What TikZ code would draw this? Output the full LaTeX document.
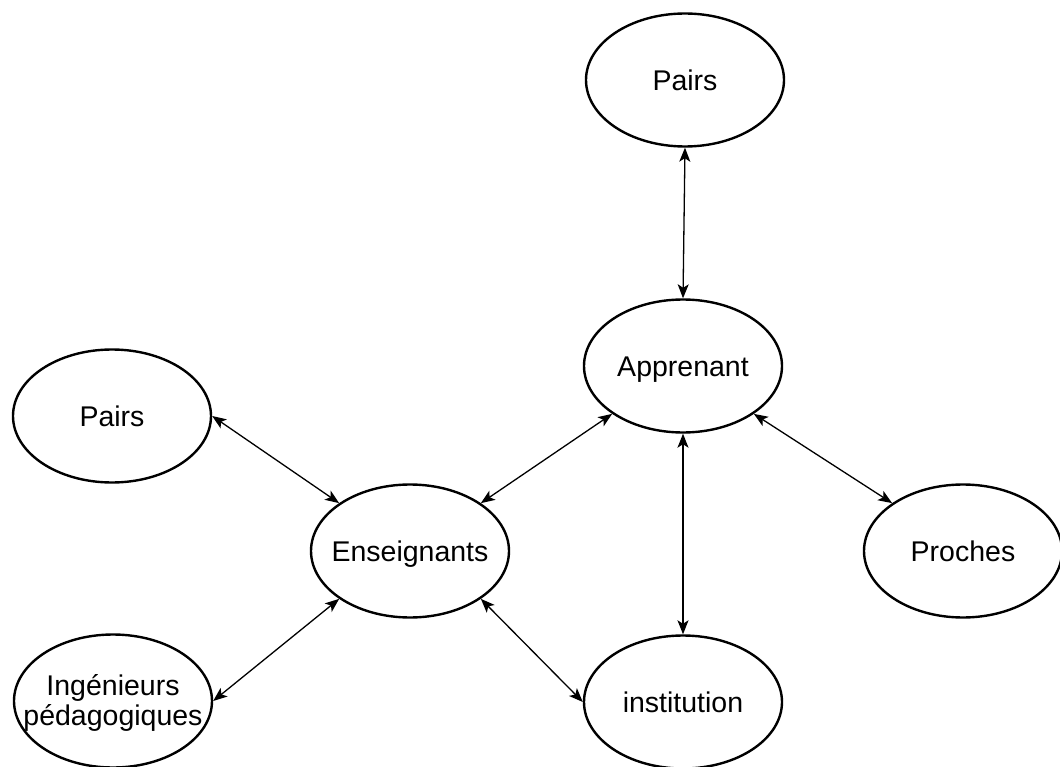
\documentclass[tikz,border=0pt]{standalone}
\usepackage{fontspec}
\setmainfont{Liberation Sans}
\usetikzlibrary{arrows.meta,shapes.geometric}
\newcommand\ctext[1]{\makebox[0pt]{\raisebox{-0.36em}[0pt][0pt]{#1}}}
\begin{document}
\begin{tikzpicture}[x=1pt,y=-1pt,
  bubble/.style={shape=ellipse,draw=black,line width=2.4pt,minimum width=198pt,minimum height=133pt,inner sep=0pt,font=\fontsize{28.5}{35}\selectfont},
  link/.style={line width=1.3pt,{Stealth[length=14pt,width=11pt,inset=3.5pt]}-{Stealth[length=14pt,width=11pt,inset=3.5pt]}}]
\useasboundingbox (0,0) rectangle (1060,767);
\node[bubble] (pt) at (685,80) {\ctext{Pairs}};
\node[bubble] (app) at (683,366) {\ctext{Apprenant}};
\node[bubble] (pl) at (112,416) {\ctext{Pairs}};
\node[bubble] (ens) at (410,551) {\ctext{Enseignants}};
\node[bubble] (pro) at (963,551) {\ctext{Proches}};
\node[bubble] (ing) at (113,701) {\makebox[0pt]{\raisebox{-0.3em}[0pt][0pt]{\begin{tabular}{@{}c@{}}Ingénieurs\\[-5pt]pédagogiques\end{tabular}}}};
\node[bubble] (ins) at (683,702) {\ctext{institution}};
\draw[link] (pt.south) -- (app.north);
\draw[link] (pl.east) -- (ens.north west);
\draw[link] (ing.east) -- (ens.south west);
\draw[link] (ens.north east) -- (app.south west);
\draw[link] (ens.south east) -- (ins.west);
\draw[link] (app.south) -- (ins.north);
\draw[link] (app.south east) -- (pro.north west);
\end{tikzpicture}
\end{document}
